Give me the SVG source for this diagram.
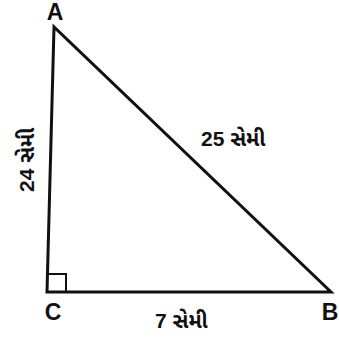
<svg xmlns="http://www.w3.org/2000/svg" width="339" height="341" viewBox="0 0 339 341">
<style>
.edge{fill:none;stroke:#111;stroke-width:3;stroke-linejoin:miter}
.sq{fill:none;stroke:#111;stroke-width:2}
.vlab{font-family:"Liberation Sans",Arial,sans-serif;font-weight:bold;font-size:23px;fill:#111}
.dlab{font-family:"Liberation Sans","Noto Sans Gujarati","Noto Sans",sans-serif;font-weight:bold;font-size:21px;fill:#111}
</style>
<rect width="339" height="341" fill="#fff"/>
<g id="connectors">
<path class="edge" d="M54,27 L47,292 L331,292 Z"/>
<path class="sq" d="M47,274 L66,274 L66,292"/>
</g>
<g id="A"><text class="vlab" x="55" y="20" text-anchor="middle">A</text></g>
<g id="C"><text class="vlab" x="53" y="320" text-anchor="middle">C</text></g>
<g id="B"><text class="vlab" x="330" y="320" text-anchor="middle">B</text></g>
<g id="lab25"><text class="dlab" x="201" y="146">25 સેમી</text></g>
<g id="lab7"><text class="dlab" x="155" y="328">7 સેમી</text></g>
<g id="lab24"><text class="dlab" transform="translate(34,192) rotate(-90)">24 સેમી</text></g>
</svg>
